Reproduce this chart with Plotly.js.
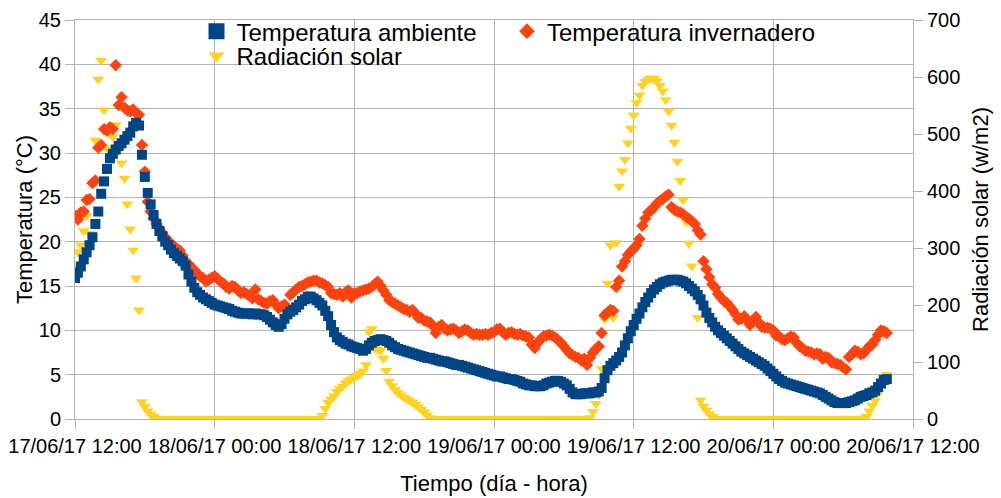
<!DOCTYPE html>
<html>
<head>
<meta charset="utf-8">
<script src="https://cdn.plot.ly/plotly-3.0.1.min.js"></script>
<style>
html,body{margin:0;padding:0;background:#fff;}
#chart{width:1001px;height:498px;}
</style>
</head>
<body>
<div id="chart"></div>
<script>
// Sampling: one reading every 15 minutes starting 17/06/17 12:00
const START_TIME = "2017-06-17T12:00:00Z";
const STEP_MINUTES = 15;

// Temperatura ambiente (°C)
const tempAmbiente = [
 15.9,16.5,17.2,18.0,18.8,19.6,20.5,22.0,23.4,25.4,
 26.8,28.2,29.4,29.9,30.4,30.8,31.1,31.5,31.9,32.3,
 33.0,33.4,33.1,29.8,27.3,25.5,24.2,23.0,22.0,21.2,
 20.6,20.0,19.6,19.1,18.7,18.4,18.1,17.8,17.3,16.3,
 15.5,14.8,14.3,14.0,13.7,13.5,13.3,13.1,12.9,12.8,
 12.7,12.6,12.5,12.4,12.2,12.1,12.0,11.9,11.9,11.9,
 11.9,11.8,11.9,11.8,11.8,11.7,11.5,11.2,10.9,10.6,
 10.4,10.7,11.3,11.8,12.1,12.3,12.6,12.9,13.3,13.5,
 13.8,13.8,13.6,13.4,13.1,12.8,12.2,11.6,10.6,9.8,
 9.2,8.9,8.7,8.5,8.4,8.2,8.1,8.0,7.9,7.7,
 7.9,8.3,8.6,8.8,8.9,9.0,8.9,8.8,8.6,8.3,
 8.1,7.9,7.8,7.7,7.6,7.5,7.4,7.3,7.2,7.1,
 7.0,6.9,6.9,6.8,6.7,6.6,6.5,6.5,6.4,6.3,
 6.2,6.1,6.1,6.0,5.9,5.8,5.7,5.6,5.5,5.4,
 5.3,5.2,5.1,5.0,4.9,4.8,4.8,4.7,4.6,4.5,
 4.5,4.4,4.3,4.2,4.0,3.9,3.8,3.8,3.7,3.7,
 3.7,3.8,4.0,4.1,4.2,4.3,4.3,4.2,4.0,3.8,
 3.4,3.0,2.8,2.8,2.8,2.9,2.9,2.9,3.0,3.0,
 3.1,3.5,4.6,5.5,6.0,6.3,6.6,7.0,7.5,8.3,
 9.1,9.9,10.6,11.3,11.9,12.6,13.2,13.7,14.2,14.6,
 14.9,15.2,15.4,15.5,15.6,15.7,15.7,15.7,15.6,15.5,
 15.3,15.0,14.7,14.4,14.0,13.5,12.8,12.0,11.4,10.9,
 10.4,10.0,9.7,9.4,9.1,8.8,8.5,8.2,7.9,7.6,
 7.4,7.2,7.0,6.8,6.6,6.4,6.2,6.0,5.7,5.4,
 5.1,4.8,4.5,4.3,4.1,4.0,3.9,3.8,3.7,3.6,
 3.5,3.4,3.3,3.2,3.1,3.0,2.9,2.7,2.5,2.3,
 2.1,1.9,1.8,1.8,1.8,1.8,1.9,2.0,2.1,2.3,
 2.5,2.6,2.7,2.9,3.0,3.2,3.6,4.0,4.4,4.5
];

// Temperatura invernadero (°C)
const tempInvernadero = [
 22.9,22.5,23.3,23.4,24.7,24.8,26.6,26.9,30.6,30.9,
 32.7,32.5,32.9,32.7,39.9,35.4,36.3,35.1,34.8,34.7,
 34.9,34.5,34.3,30.9,27.9,24.5,23.4,22.6,22.0,21.5,
 21.0,20.5,20.1,19.8,19.5,19.2,19.0,18.4,17.8,17.5,
 17.1,16.8,16.4,16.1,15.9,15.5,15.7,15.9,16.1,15.8,
 15.5,15.3,14.9,14.7,15.0,14.9,14.5,14.2,14.3,14.1,
 13.9,13.6,14.6,13.5,13.3,13.1,13.0,13.3,13.4,12.9,
 12.5,12.7,12.9,12.5,14.0,14.3,14.6,14.9,15.0,15.2,
 15.4,15.5,15.6,15.6,15.4,15.3,15.1,14.9,14.2,14.1,
 14.0,14.2,13.8,14.3,14.5,13.7,14.2,14.2,14.4,14.5,
 14.6,14.7,14.9,15.2,15.5,15.0,14.5,14.0,13.4,13.2,
 13.0,12.8,12.6,12.4,12.3,12.1,12.3,11.9,11.4,11.4,
 11.1,11.0,10.9,10.5,9.7,10.4,10.6,10.2,10.0,10.1,
 10.2,10.0,9.7,9.9,10.1,10.0,9.7,9.5,9.6,9.5,
 9.5,9.6,9.5,9.7,9.8,10.1,10.2,9.8,9.5,9.7,
 9.8,9.6,9.5,9.6,9.4,9.3,9.2,8.4,8.0,8.6,
 9.0,9.3,9.4,9.5,9.4,9.2,8.9,8.6,8.2,7.8,
 7.4,7.2,7.0,6.9,6.6,6.8,6.1,6.9,7.5,7.9,
 8.2,9.7,11.7,12.0,12.3,12.2,14.9,15.6,17.2,17.8,
 18.5,18.9,19.2,19.6,20.3,21.8,22.6,23.3,23.5,23.9,
 24.3,24.6,24.8,25.1,25.3,23.9,23.6,23.4,23.3,23.1,
 22.8,22.6,22.3,22.0,21.3,20.8,17.8,16.9,16.0,15.2,
 14.8,14.1,13.7,13.3,13.1,12.7,12.3,11.8,11.2,11.3,
 11.6,11.1,10.6,11.0,11.5,10.9,10.4,10.3,10.3,10.2,
 10.0,9.4,9.3,9.0,8.9,9.1,9.3,9.2,8.6,8.2,
 8.0,7.7,7.6,7.5,7.3,7.4,7.3,6.8,7.0,6.9,
 6.4,6.3,6.2,6.1,5.8,5.6,7.0,7.3,7.7,7.6,
 7.3,7.4,7.8,8.2,8.4,8.9,9.5,10.0,9.9,9.7
];

// Radiación solar (w/m2)
const radiacion = [
 267,293,305,330,356,325,415,489,596,629,
 542,475,500,495,516,470,449,422,377,333,
 296,247,191,30,22,14,8,4,1,0,
 0,0,0,0,0,0,0,0,0,0,
 0,0,0,0,0,0,0,0,0,0,
 0,0,0,0,0,0,0,0,0,0,
 0,0,0,0,0,0,0,0,0,0,
 0,0,0,0,0,0,0,0,0,0,
 0,0,0,0,0,6,18,29,35,40,
 48,53,57,63,67,70,73,76,80,84,
 95,153,158,124,122,120,106,85,66,58,
 51,46,42,38,35,32,29,25,21,17,
 12,7,2,0,0,0,0,0,0,0,
 0,0,0,0,0,0,0,0,0,0,
 0,0,0,0,0,0,0,0,0,0,
 0,0,0,0,0,0,0,0,0,0,
 0,0,0,0,0,0,0,0,0,0,
 0,0,0,0,0,0,0,2,13,27,
 42,88,175,238,305,178,309,408,435,455,
 484,510,533,555,568,585,592,596,598,597,
 593,585,575,560,540,515,485,452,418,384,
 346,308,268,225,178,33,22,15,9,4,
 1,0,0,0,0,0,0,0,0,0,
 0,0,0,0,0,0,0,0,0,0,
 0,0,0,0,0,0,0,0,0,0,
 0,0,0,0,0,0,0,0,0,0,
 0,0,0,0,0,0,0,0,0,0,
 0,0,4,14,24,32,45,60,72,78
];

const seriesNames = ["Temperatura ambiente", "Temperatura invernadero", "Radiación solar"];
const xRange = ["2017-06-17 12:00", "2017-06-20 12:00"];
const tickFormat = "%d/%m/%y %H:%M";
const xTitle = "Tiempo (día - hora)";
const yLeftTitle = "Temperatura (°C)";
const yRightTitle = "Radiación solar (w/m2)";

const COLORS = {amb: "#004586", inv: "#ff420e", rad: "#ffd320"};

const t0 = Date.parse(START_TIME);
function stamp(i){
  return new Date(t0 + i*STEP_MINUTES*60000).toISOString().slice(0,16).replace("T"," ");
}
const times = tempAmbiente.map((_, i) => stamp(i));

const FONT = "Liberation Sans, Arial, sans-serif";
const GRID = "#b3b3b3";

const traces = [
  {x: times, y: radiacion, type: "scatter", mode: "markers", yaxis: "y", xaxis: "x",
   name: seriesNames[2], showlegend: false, hoverinfo: "skip",
   marker: {symbol: "triangle-down", size: 10.5, color: COLORS.rad, line: {width: 0}}},
  {x: times, y: tempInvernadero, type: "scatter", mode: "markers", yaxis: "y2", xaxis: "x",
   name: seriesNames[1], showlegend: false, hoverinfo: "skip",
   marker: {symbol: "diamond", size: 9.5, color: COLORS.inv, line: {width: 0}}},
  {x: times, y: tempAmbiente, type: "scatter", mode: "markers", yaxis: "y2", xaxis: "x",
   name: seriesNames[0], showlegend: false, hoverinfo: "skip",
   marker: {symbol: "square", size: 10, color: COLORS.amb, line: {width: 0}}},
  // legend entries (one legend box per entry, placed like the original)
  {x: [null], y: [null], type: "scatter", mode: "markers", yaxis: "y", name: seriesNames[0],
   legend: "legend", marker: {symbol: "square", size: 16, color: COLORS.amb}},
  {x: [null], y: [null], type: "scatter", mode: "markers", yaxis: "y", name: seriesNames[1],
   legend: "legend3", marker: {symbol: "diamond", size: 12, color: COLORS.inv}},
  {x: [null], y: [null], type: "scatter", mode: "markers", yaxis: "y", name: seriesNames[2],
   legend: "legend2", marker: {symbol: "triangle-down", size: 14, color: COLORS.rad}}
];

const legendCommon = {
  orientation: "h", xref: "paper", yref: "paper", xanchor: "left", yanchor: "top",
  bgcolor: "rgba(0,0,0,0)", borderwidth: 0, font: {family: FONT, size: 24, color: "#000"},
  itemsizing: "trace", tracegroupgap: 0
};

const layout = {
  width: 1001, height: 498,
  margin: {l: 75, r: 88, t: 20, b: 79, pad: 0, autoexpand: false},
  paper_bgcolor: "#ffffff", plot_bgcolor: "#ffffff",
  font: {family: FONT, size: 20, color: "#000"},
  showlegend: true,
  legend: Object.assign({}, legendCommon, {x: 0.145, y: 1.0275}),
  legend3: Object.assign({}, legendCommon, {x: 0.5155, y: 1.0275}),
  legend2: Object.assign({}, legendCommon, {x: 0.145, y: 0.965}),
  xaxis: {
    type: "date", range: xRange, tick0: xRange[0], dtick: 12*3600*1000,
    tickformat: tickFormat, showgrid: true, gridcolor: GRID, gridwidth: 1,
    ticks: "outside", ticklen: 9, tickcolor: GRID, showline: true, linecolor: GRID, mirror: true,
    zeroline: false, tickfont: {family: FONT, size: 20, color: "#000"},
    title: {text: xTitle, font: {family: FONT, size: 22, color: "#000"}, standoff: 19}
  },
  yaxis: {
    range: [0, 700], dtick: 100, side: "right", showgrid: false, zeroline: false,
    ticks: "outside", ticklen: 9, tickcolor: GRID, showline: true, linecolor: GRID,
    tickfont: {family: FONT, size: 20, color: "#000"},
    title: {text: yRightTitle, font: {family: FONT, size: 22, color: "#000"}, standoff: 13}
  },
  yaxis2: {
    overlaying: "y", side: "left", range: [0, 45], dtick: 5, showgrid: true, gridcolor: GRID,
    zeroline: false, ticks: "outside", ticklen: 9, tickcolor: GRID, showline: true, linecolor: GRID,
    tickfont: {family: FONT, size: 20, color: "#000"},
    title: {text: yLeftTitle, font: {family: FONT, size: 22, color: "#000"}, standoff: 0}
  }
};

Plotly.newPlot("chart", traces, layout, {staticPlot: true, displayModeBar: false});
</script>
</body>
</html>
